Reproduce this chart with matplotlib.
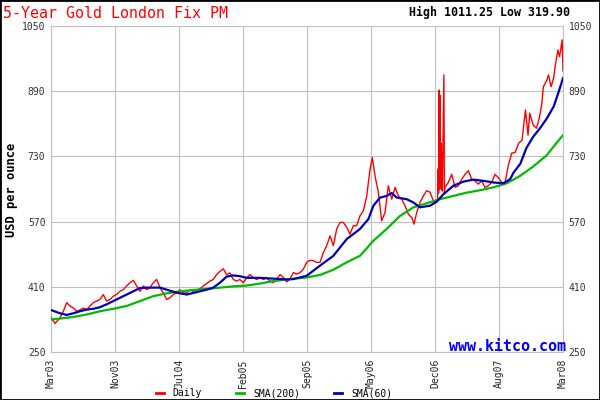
import matplotlib
matplotlib.use("Agg")
import matplotlib.pyplot as plt
from matplotlib.patches import Rectangle

# months since Mar 2003 (0 .. 60) and price readings
daily_m = [0.0, 0.47, 1.05, 1.45, 1.84, 2.23, 2.62, 3.01, 3.40, 3.79, 4.18, 4.57, 4.96, 5.35,
           5.74, 6.13, 6.52, 6.91, 7.30, 7.69, 8.08, 8.48, 8.87, 9.26, 9.65, 10.04, 10.43, 10.82,
           11.21, 11.60, 11.99, 12.38, 12.77, 13.16, 13.55, 13.94, 14.33, 14.72, 15.11, 15.50,
           15.90, 16.29, 16.68, 17.07, 17.46, 17.85, 18.24, 18.63, 19.02, 19.41, 19.80, 20.19,
           20.58, 20.97, 21.36, 21.75, 22.14, 22.54, 22.93, 23.32, 23.71, 24.10, 24.49, 24.88,
           25.27, 25.66, 26.05, 26.44, 26.84, 27.23, 27.62, 28.01, 28.40, 28.79, 29.18, 29.57,
           29.96, 30.36, 30.75, 31.14, 31.53, 31.92, 32.31, 32.70, 33.09, 33.48, 33.87, 34.26,
           34.65, 35.04, 35.43, 35.82, 36.21, 36.61, 37.00, 37.39, 37.66, 37.97, 38.36, 38.75,
           39.14, 39.53, 39.93, 40.32, 40.71, 41.10, 41.49, 41.88, 42.27, 42.54, 42.85, 43.25,
           43.64, 44.03, 44.42, 44.81, 45.20, 45.30, 45.38, 45.42, 45.48, 45.52, 45.57, 45.62,
           45.68, 45.73, 45.80, 45.86, 46.04, 46.10, 46.17, 46.56, 46.96, 47.35, 47.74, 48.13,
           48.52, 48.91, 49.30, 49.69, 50.08, 50.47, 50.86, 51.25, 51.64, 52.03, 52.42, 52.82,
           53.21, 53.6, 54.0, 54.4, 54.8, 55.2, 55.4, 55.6, 55.9, 56.1, 56.5, 56.9, 57.2, 57.5,
           57.7, 58.1, 58.3, 58.6, 58.9, 59.1, 59.4, 59.6, 59.9, 60.0]
daily = [335, 320, 334, 350, 371, 363, 358, 350, 353, 358, 354, 363, 371, 375,
         379, 391, 375, 379, 387, 391, 399, 403, 412, 420, 426, 412, 399, 412,
         403, 408, 420, 428, 408, 395, 379, 383, 391, 395, 403, 395,
         395, 403, 399, 403, 405, 412, 418, 424, 428, 440, 448, 454,
         440, 444, 428, 424, 428, 420, 432, 440, 432, 428, 432, 428,
         432, 424, 420, 428, 440, 433, 422, 429, 445, 441, 445, 453,
         470, 475, 474, 470, 470, 494, 511, 535, 511, 552, 568, 568,
         556, 539, 560, 560, 584, 597, 633, 699, 727, 682, 642, 572,
         592, 658, 625, 654, 633, 625, 609, 588, 580, 564, 592, 617,
         633, 646, 642, 621, 617, 625, 700, 640, 893, 650, 880, 660,
         763, 650, 740, 645, 930, 640, 654, 666, 686, 654, 658, 674,
         686, 695, 674, 670, 662, 670, 654, 658, 666, 686, 678, 666,
         666, 709, 738, 740, 762, 770, 807, 844, 782, 836, 807, 799, 823, 856,
         901, 917, 930, 901, 922, 954, 991, 975, 1016, 940]

sma60_m = [0.0, 1.05, 1.84, 2.62, 3.40, 4.18, 4.96, 5.74, 6.52, 7.30, 8.08, 8.87, 9.65,
           10.43, 11.21, 11.99, 12.77, 13.55, 14.33, 15.11, 15.90, 16.68, 17.46, 18.24,
           19.02, 19.80, 20.58, 21.36, 22.14, 22.93, 24.49, 26.05, 27.61, 28.40, 29.96,
           31.53, 33.09, 34.65, 36.21, 37.19, 37.78, 38.56, 39.34, 39.93, 40.51, 41.68,
           42.46, 43.25, 44.42, 45.20, 45.98, 47.15, 48.32, 49.49, 50.67, 51.84, 53.01,
           53.8, 54.2, 55.0, 55.7, 56.5, 57.3, 58.1, 58.9, 59.5, 60.0]
sma60 = [353, 345, 341, 345, 350, 354, 356, 360, 367, 375, 383, 391, 399,
         407, 408, 408, 408, 403, 398, 394, 391, 395, 399, 403,
         408, 420, 435, 438, 436, 432, 432, 430, 428, 429, 437,
         462, 486, 527, 552, 576, 609, 629, 633, 640, 629, 625,
         617, 605, 609, 619, 637, 658, 668, 673, 670, 666, 664,
         674, 690, 712, 750, 778, 799, 823, 852, 889, 922]

sma200_m = [0.0, 1.05, 2.62, 4.18, 5.74, 7.30, 8.87, 10.43, 11.99, 13.55, 15.11, 16.68,
            18.24, 19.80, 21.36, 22.93, 24.49, 26.05, 27.61, 29.96, 31.53, 33.09, 34.65,
            36.21, 37.78, 39.34, 40.90, 42.46, 44.03, 45.59, 47.15, 48.71, 50.28, 51.84,
            53.40, 54.96, 56.5, 58.1, 59.2, 60.0]
sma200 = [330, 332, 336, 342, 350, 356, 363, 375, 387, 394, 399, 402,
          405, 408, 411, 413, 418, 424, 428, 433, 439, 452, 470,
          486, 523, 552, 584, 605, 615, 625, 633, 641, 647, 654,
          664, 682, 705, 733, 762, 782]

tick_pos = [0, 7.5, 15, 22.5, 30, 37.5, 45, 52.5, 60]
tick_labels = ["Mar03", "Nov03", "Jul04", "Feb05", "Sep05", "May06", "Dec06", "Aug07", "Mar08"]
y_ticks = [250, 410, 570, 730, 890, 1050]

mono = "DejaVu Sans Mono"
grid_c = "#c0c0c0"

fig = plt.figure(figsize=(6, 4), dpi=100)
ax = fig.add_axes([51 / 600, 1 - 352 / 400, 512 / 600, 326 / 400])

l1, = ax.plot(daily_m, daily, color="#ff0000", lw=1.0, label="Daily", zorder=3)
l2, = ax.plot(sma200_m, sma200, color="#00bb00", lw=1.6, label="SMA(200)", zorder=4)
l3, = ax.plot(sma60_m, sma60, color="#0000bb", lw=1.6, label="SMA(60)", zorder=5)

ax.set_xlim(0, 60)
ax.set_ylim(250, 1050)
ax.set_xticks(tick_pos)
ax.set_xticklabels(tick_labels, rotation=90, family=mono, fontsize=7, color="#222222")
ax.set_yticks(y_ticks)
ax.set_yticklabels([str(v) for v in y_ticks], family=mono, fontsize=7, color="#333333")
ax.tick_params(axis="y", length=0, pad=4, labelright=True)
ax.tick_params(axis="x", length=0, pad=5)
ax.grid(True, color=grid_c, lw=0.8)
ax.set_axisbelow(True)
for s in ax.spines.values():
    s.set_color(grid_c)
    s.set_linewidth(0.8)

fig.text(3 / 600, 1 - 13 / 400, "5-Year Gold London Fix PM", color="#ff0000",
         family=mono, fontsize=10.8, ha="left", va="center")
fig.text(570 / 600, 1 - 12 / 400, "High 1011.25 Low 319.90", color="black",
         family=mono, fontsize=8.4, fontweight="bold", ha="right", va="center")
fig.text(12 / 600, 1 - 190 / 400, "USD per ounce", rotation=90, family=mono,
         fontsize=8.7, fontweight="bold", ha="center", va="center")
ax.text(1.006, 0.016, "www.kitco.com", transform=ax.transAxes, color="#0000ff",
        family=mono, fontsize=10.8, fontweight="bold", ha="right", va="center",
        zorder=6, clip_on=False)

leg = fig.legend(handles=[l1, l2, l3], loc="center", bbox_to_anchor=(274 / 600, 1 - 393 / 400),
                 ncol=3, frameon=False, prop={"family": mono, "size": 7},
                 handlelength=0.85, handletextpad=0.9, columnspacing=3.5, borderpad=0)
for h in leg.get_lines():
    h.set_linewidth(2)

fig.patches.append(Rectangle((0, 0), 1, 1, transform=fig.transFigure, fill=False,
                             edgecolor="black", lw=2))

fig.savefig("out.png", dpi=100)
